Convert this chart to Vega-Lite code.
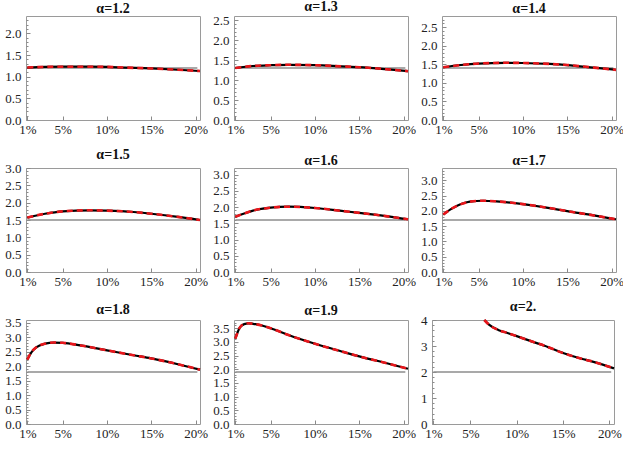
{
"$schema": "https://vega.github.io/schema/vega-lite/v6.json",
"padding": {"left": 4, "top": -1, "right": 1, "bottom": 1},
"background": "white",
"data": {"values": [
{"a":1.2,"s":"r","x":1,"y":1.2},{"a":1.2,"s":"r","x":20.2,"y":1.2},
{"a":1.3,"s":"r","x":1,"y":1.3},{"a":1.3,"s":"r","x":20.2,"y":1.3},
{"a":1.4,"s":"r","x":1,"y":1.4},{"a":1.4,"s":"r","x":20.2,"y":1.4},
{"a":1.5,"s":"r","x":1,"y":1.5},{"a":1.5,"s":"r","x":20.2,"y":1.5},
{"a":1.6,"s":"r","x":1,"y":1.6},{"a":1.6,"s":"r","x":20.2,"y":1.6},
{"a":1.7,"s":"r","x":1,"y":1.7},{"a":1.7,"s":"r","x":20.2,"y":1.7},
{"a":1.8,"s":"r","x":1,"y":1.8},{"a":1.8,"s":"r","x":20.2,"y":1.8},
{"a":1.9,"s":"r","x":1,"y":1.9},{"a":1.9,"s":"r","x":20.2,"y":1.9},
{"a":2,"s":"r","x":1,"y":2},{"a":2,"s":"r","x":20.2,"y":2},
{"a":1.2,"s":"c","x":1,"y":1.21},{"a":1.2,"s":"c","x":3,"y":1.225},{"a":1.2,"s":"c","x":5,"y":1.23},{"a":1.2,"s":"c","x":8,"y":1.23},{"a":1.2,"s":"c","x":10,"y":1.225},{"a":1.2,"s":"c","x":12,"y":1.21},{"a":1.2,"s":"c","x":15,"y":1.19},{"a":1.2,"s":"c","x":18,"y":1.16},{"a":1.2,"s":"c","x":20.5,"y":1.13},
{"a":1.3,"s":"c","x":1,"y":1.3},{"a":1.3,"s":"c","x":3,"y":1.35},{"a":1.3,"s":"c","x":5,"y":1.37},{"a":1.3,"s":"c","x":7,"y":1.38},{"a":1.3,"s":"c","x":10,"y":1.37},{"a":1.3,"s":"c","x":13,"y":1.34},{"a":1.3,"s":"c","x":15,"y":1.32},{"a":1.3,"s":"c","x":18,"y":1.27},{"a":1.3,"s":"c","x":20.5,"y":1.22},
{"a":1.4,"s":"c","x":1,"y":1.42},{"a":1.4,"s":"c","x":3,"y":1.48},{"a":1.4,"s":"c","x":5,"y":1.52},{"a":1.4,"s":"c","x":8,"y":1.54},{"a":1.4,"s":"c","x":10,"y":1.535},{"a":1.4,"s":"c","x":13,"y":1.51},{"a":1.4,"s":"c","x":15,"y":1.48},{"a":1.4,"s":"c","x":18,"y":1.41},{"a":1.4,"s":"c","x":20.5,"y":1.35},
{"a":1.5,"s":"c","x":1,"y":1.57},{"a":1.5,"s":"c","x":3,"y":1.68},{"a":1.5,"s":"c","x":5,"y":1.75},{"a":1.5,"s":"c","x":8,"y":1.78},{"a":1.5,"s":"c","x":10,"y":1.77},{"a":1.5,"s":"c","x":13,"y":1.73},{"a":1.5,"s":"c","x":15,"y":1.68},{"a":1.5,"s":"c","x":18,"y":1.59},{"a":1.5,"s":"c","x":20.5,"y":1.5},
{"a":1.6,"s":"c","x":1,"y":1.7},{"a":1.6,"s":"c","x":2,"y":1.8},{"a":1.6,"s":"c","x":3,"y":1.89},{"a":1.6,"s":"c","x":5,"y":1.98},{"a":1.6,"s":"c","x":7,"y":2.01},{"a":1.6,"s":"c","x":10,"y":1.97},{"a":1.6,"s":"c","x":13,"y":1.88},{"a":1.6,"s":"c","x":15,"y":1.82},{"a":1.6,"s":"c","x":18,"y":1.72},{"a":1.6,"s":"c","x":20.5,"y":1.62},
{"a":1.7,"s":"c","x":1,"y":1.88},{"a":1.7,"s":"c","x":2,"y":2.08},{"a":1.7,"s":"c","x":3,"y":2.22},{"a":1.7,"s":"c","x":4,"y":2.3},{"a":1.7,"s":"c","x":5.5,"y":2.33},{"a":1.7,"s":"c","x":7,"y":2.31},{"a":1.7,"s":"c","x":10,"y":2.22},{"a":1.7,"s":"c","x":13,"y":2.09},{"a":1.7,"s":"c","x":15,"y":1.99},{"a":1.7,"s":"c","x":18,"y":1.85},{"a":1.7,"s":"c","x":20.5,"y":1.72},
{"a":1.8,"s":"c","x":1,"y":2.23},{"a":1.8,"s":"c","x":1.5,"y":2.5},{"a":1.8,"s":"c","x":2,"y":2.65},{"a":1.8,"s":"c","x":3,"y":2.78},{"a":1.8,"s":"c","x":4,"y":2.82},{"a":1.8,"s":"c","x":5,"y":2.81},{"a":1.8,"s":"c","x":7,"y":2.72},{"a":1.8,"s":"c","x":10,"y":2.55},{"a":1.8,"s":"c","x":13,"y":2.38},{"a":1.8,"s":"c","x":15,"y":2.27},{"a":1.8,"s":"c","x":18,"y":2.07},{"a":1.8,"s":"c","x":20.5,"y":1.88},
{"a":1.9,"s":"c","x":1,"y":3.12},{"a":1.9,"s":"c","x":1.5,"y":3.52},{"a":1.9,"s":"c","x":2,"y":3.65},{"a":1.9,"s":"c","x":2.5,"y":3.68},{"a":1.9,"s":"c","x":3,"y":3.66},{"a":1.9,"s":"c","x":4,"y":3.6},{"a":1.9,"s":"c","x":5,"y":3.5},{"a":1.9,"s":"c","x":7,"y":3.25},{"a":1.9,"s":"c","x":10,"y":2.93},{"a":1.9,"s":"c","x":13,"y":2.65},{"a":1.9,"s":"c","x":15,"y":2.47},{"a":1.9,"s":"c","x":18,"y":2.23},{"a":1.9,"s":"c","x":20.5,"y":2.02},
{"a":2,"s":"c","x":6.5,"y":4.0},{"a":2,"s":"c","x":7,"y":3.82},{"a":2,"s":"c","x":8,"y":3.62},{"a":2,"s":"c","x":9,"y":3.5},{"a":2,"s":"c","x":10,"y":3.38},{"a":2,"s":"c","x":12,"y":3.13},{"a":2,"s":"c","x":13,"y":3.01},{"a":2,"s":"c","x":15,"y":2.73},{"a":2,"s":"c","x":17,"y":2.51},{"a":2,"s":"c","x":18,"y":2.42},{"a":2,"s":"c","x":20.5,"y":2.14}
]},
"config": {
  "view": {"stroke": "#9a9a9a", "strokeWidth": 1},
  "title": {"font": "Liberation Serif", "fontSize": 14, "fontWeight": "bold", "color": "#111111", "offset": 0, "frame": "group"},
  "line": {"clip": true}
},
"columns": 3,
"align": {"row": "each", "column": "none"},
"bounds": "full",
"spacing": {"row": 10, "column": 4},
"concat": [
{"width":174,"height":104,"title":{"text":"α=1.2","frame":"group","offset":0},"transform":[{"filter":"datum.a == 1.2"}],
 "encoding":{"x":{"field":"x","type":"quantitative","scale":{"domain":[0.85,20.5]},"axis":{"values":[1,5,10,15,20],"labelExpr":"datum.value + '%'","labelFont":"Liberation Serif","labelFontSize":13,"labelColor":"#222222","tickColor":"#8a8a8a","tickSize":-4,"labelPadding":7,"labelFlush":false,"labelOverlap":false,"domain":false,"grid":false,"title":null}}},
 "layer":[
  {"transform":[{"filter":"datum.s == 'r'"}],"mark":{"type":"line","color":"#8c8c8c","strokeWidth":1.5},"encoding":{"y":{"field":"y","type":"quantitative","scale":{"domain":[0,2.4],"nice":false},"axis":{"orient":"left","values":[0.1,0.2,0.3,0.4,0.6,0.7,0.8,0.9,1.1,1.2,1.3,1.4,1.6,1.7,1.8,1.9,2.1,2.2,2.3],"labels":false,"tickColor":"#8a8a8a","tickSize":-2,"domain":false,"grid":false,"title":null}}}},
  {"transform":[{"filter":"datum.s == 'c'"}],"mark":{"type":"line","color":"#000000","strokeWidth":2.2,"interpolate":"monotone"},"encoding":{"y":{"field":"y","type":"quantitative","scale":{"domain":[0,2.4],"nice":false},"axis":{"orient":"left","values":[0,0.5,1,1.5,2],"format":".1f","labelFont":"Liberation Serif","labelFontSize":13,"labelColor":"#222222","tickColor":"#8a8a8a","tickSize":-4,"labelPadding":9,"labelFlush":false,"labelOverlap":false,"domain":false,"grid":false,"title":null}}}},
  {"transform":[{"filter":"datum.s == 'c'"}],"mark":{"type":"line","color":"#e8161b","strokeWidth":2.6,"strokeDash":[6,4],"interpolate":"monotone"},"encoding":{"y":{"field":"y","type":"quantitative","scale":{"domain":[0,2.4],"nice":false},"axis":null}}}
 ],
 "resolve":{"axis":{"y":"independent"}}},
{"width":174,"height":104,"title":{"text":"α=1.3","frame":"group","offset":0},"transform":[{"filter":"datum.a == 1.3"}],
 "encoding":{"x":{"field":"x","type":"quantitative","scale":{"domain":[0.85,20.5]},"axis":{"values":[1,5,10,15,20],"labelExpr":"datum.value + '%'","labelFont":"Liberation Serif","labelFontSize":13,"labelColor":"#222222","tickColor":"#8a8a8a","tickSize":-4,"labelPadding":7,"labelFlush":false,"labelOverlap":false,"domain":false,"grid":false,"title":null}}},
 "layer":[
  {"transform":[{"filter":"datum.s == 'r'"}],"mark":{"type":"line","color":"#8c8c8c","strokeWidth":1.5},"encoding":{"y":{"field":"y","type":"quantitative","scale":{"domain":[0,2.6],"nice":false},"axis":{"orient":"left","values":[0.1,0.2,0.3,0.4,0.6,0.7,0.8,0.9,1.1,1.2,1.3,1.4,1.6,1.7,1.8,1.9,2.1,2.2,2.3,2.4],"labels":false,"tickColor":"#8a8a8a","tickSize":-2,"domain":false,"grid":false,"title":null}}}},
  {"transform":[{"filter":"datum.s == 'c'"}],"mark":{"type":"line","color":"#000000","strokeWidth":2.2,"interpolate":"monotone"},"encoding":{"y":{"field":"y","type":"quantitative","scale":{"domain":[0,2.6],"nice":false},"axis":{"orient":"left","values":[0,0.5,1,1.5,2,2.5],"format":".1f","labelFont":"Liberation Serif","labelFontSize":13,"labelColor":"#222222","tickColor":"#8a8a8a","tickSize":-4,"labelPadding":9,"labelFlush":false,"labelOverlap":false,"domain":false,"grid":false,"title":null}}}},
  {"transform":[{"filter":"datum.s == 'c'"}],"mark":{"type":"line","color":"#e8161b","strokeWidth":2.6,"strokeDash":[6,4],"interpolate":"monotone"},"encoding":{"y":{"field":"y","type":"quantitative","scale":{"domain":[0,2.6],"nice":false},"axis":null}}}
 ],
 "resolve":{"axis":{"y":"independent"}}},
{"width":174,"height":104,"title":{"text":"α=1.4","frame":"group","offset":0},"transform":[{"filter":"datum.a == 1.4"}],
 "encoding":{"x":{"field":"x","type":"quantitative","scale":{"domain":[0.85,20.5]},"axis":{"values":[1,5,10,15,20],"labelExpr":"datum.value + '%'","labelFont":"Liberation Serif","labelFontSize":13,"labelColor":"#222222","tickColor":"#8a8a8a","tickSize":-4,"labelPadding":7,"labelFlush":false,"labelOverlap":false,"domain":false,"grid":false,"title":null}}},
 "layer":[
  {"transform":[{"filter":"datum.s == 'r'"}],"mark":{"type":"line","color":"#8c8c8c","strokeWidth":1.5},"encoding":{"y":{"field":"y","type":"quantitative","scale":{"domain":[0,2.8],"nice":false},"axis":{"orient":"left","values":[0.1,0.2,0.3,0.4,0.6,0.7,0.8,0.9,1.1,1.2,1.3,1.4,1.6,1.7,1.8,1.9,2.1,2.2,2.3,2.4,2.6,2.7],"labels":false,"tickColor":"#8a8a8a","tickSize":-2,"domain":false,"grid":false,"title":null}}}},
  {"transform":[{"filter":"datum.s == 'c'"}],"mark":{"type":"line","color":"#000000","strokeWidth":2.2,"interpolate":"monotone"},"encoding":{"y":{"field":"y","type":"quantitative","scale":{"domain":[0,2.8],"nice":false},"axis":{"orient":"left","values":[0,0.5,1,1.5,2,2.5],"format":".1f","labelFont":"Liberation Serif","labelFontSize":13,"labelColor":"#222222","tickColor":"#8a8a8a","tickSize":-4,"labelPadding":9,"labelFlush":false,"labelOverlap":false,"domain":false,"grid":false,"title":null}}}},
  {"transform":[{"filter":"datum.s == 'c'"}],"mark":{"type":"line","color":"#e8161b","strokeWidth":2.6,"strokeDash":[6,4],"interpolate":"monotone"},"encoding":{"y":{"field":"y","type":"quantitative","scale":{"domain":[0,2.8],"nice":false},"axis":null}}}
 ],
 "resolve":{"axis":{"y":"independent"}}},
{"width":174,"height":104,"title":{"text":"α=1.5","frame":"group","offset":0},"transform":[{"filter":"datum.a == 1.5"}],
 "encoding":{"x":{"field":"x","type":"quantitative","scale":{"domain":[0.85,20.5]},"axis":{"values":[1,5,10,15,20],"labelExpr":"datum.value + '%'","labelFont":"Liberation Serif","labelFontSize":13,"labelColor":"#222222","tickColor":"#8a8a8a","tickSize":-4,"labelPadding":7,"labelFlush":false,"labelOverlap":false,"domain":false,"grid":false,"title":null}}},
 "layer":[
  {"transform":[{"filter":"datum.s == 'r'"}],"mark":{"type":"line","color":"#8c8c8c","strokeWidth":1.5},"encoding":{"y":{"field":"y","type":"quantitative","scale":{"domain":[0,3.0],"nice":false},"axis":{"orient":"left","values":[0.1,0.2,0.3,0.4,0.6,0.7,0.8,0.9,1.1,1.2,1.3,1.4,1.6,1.7,1.8,1.9,2.1,2.2,2.3,2.4,2.6,2.7,2.8,2.9],"labels":false,"tickColor":"#8a8a8a","tickSize":-2,"domain":false,"grid":false,"title":null}}}},
  {"transform":[{"filter":"datum.s == 'c'"}],"mark":{"type":"line","color":"#000000","strokeWidth":2.2,"interpolate":"monotone"},"encoding":{"y":{"field":"y","type":"quantitative","scale":{"domain":[0,3.0],"nice":false},"axis":{"orient":"left","values":[0,0.5,1,1.5,2,2.5,3],"format":".1f","labelFont":"Liberation Serif","labelFontSize":13,"labelColor":"#222222","tickColor":"#8a8a8a","tickSize":-4,"labelPadding":9,"labelFlush":false,"labelOverlap":false,"domain":false,"grid":false,"title":null}}}},
  {"transform":[{"filter":"datum.s == 'c'"}],"mark":{"type":"line","color":"#e8161b","strokeWidth":2.6,"strokeDash":[6,4],"interpolate":"monotone"},"encoding":{"y":{"field":"y","type":"quantitative","scale":{"domain":[0,3.0],"nice":false},"axis":null}}}
 ],
 "resolve":{"axis":{"y":"independent"}}},
{"width":174,"height":104,"title":{"text":"α=1.6","frame":"group","offset":0},"transform":[{"filter":"datum.a == 1.6"}],
 "encoding":{"x":{"field":"x","type":"quantitative","scale":{"domain":[0.85,20.5]},"axis":{"values":[1,5,10,15,20],"labelExpr":"datum.value + '%'","labelFont":"Liberation Serif","labelFontSize":13,"labelColor":"#222222","tickColor":"#8a8a8a","tickSize":-4,"labelPadding":7,"labelFlush":false,"labelOverlap":false,"domain":false,"grid":false,"title":null}}},
 "layer":[
  {"transform":[{"filter":"datum.s == 'r'"}],"mark":{"type":"line","color":"#8c8c8c","strokeWidth":1.5},"encoding":{"y":{"field":"y","type":"quantitative","scale":{"domain":[0,3.2],"nice":false},"axis":{"orient":"left","values":[0.1,0.2,0.3,0.4,0.6,0.7,0.8,0.9,1.1,1.2,1.3,1.4,1.6,1.7,1.8,1.9,2.1,2.2,2.3,2.4,2.6,2.7,2.8,2.9,3.1],"labels":false,"tickColor":"#8a8a8a","tickSize":-2,"domain":false,"grid":false,"title":null}}}},
  {"transform":[{"filter":"datum.s == 'c'"}],"mark":{"type":"line","color":"#000000","strokeWidth":2.2,"interpolate":"monotone"},"encoding":{"y":{"field":"y","type":"quantitative","scale":{"domain":[0,3.2],"nice":false},"axis":{"orient":"left","values":[0,0.5,1,1.5,2,2.5,3],"format":".1f","labelFont":"Liberation Serif","labelFontSize":13,"labelColor":"#222222","tickColor":"#8a8a8a","tickSize":-4,"labelPadding":9,"labelFlush":false,"labelOverlap":false,"domain":false,"grid":false,"title":null}}}},
  {"transform":[{"filter":"datum.s == 'c'"}],"mark":{"type":"line","color":"#e8161b","strokeWidth":2.6,"strokeDash":[6,4],"interpolate":"monotone"},"encoding":{"y":{"field":"y","type":"quantitative","scale":{"domain":[0,3.2],"nice":false},"axis":null}}}
 ],
 "resolve":{"axis":{"y":"independent"}}},
{"width":174,"height":104,"title":{"text":"α=1.7","frame":"group","offset":0},"transform":[{"filter":"datum.a == 1.7"}],
 "encoding":{"x":{"field":"x","type":"quantitative","scale":{"domain":[0.85,20.5]},"axis":{"values":[1,5,10,15,20],"labelExpr":"datum.value + '%'","labelFont":"Liberation Serif","labelFontSize":13,"labelColor":"#222222","tickColor":"#8a8a8a","tickSize":-4,"labelPadding":7,"labelFlush":false,"labelOverlap":false,"domain":false,"grid":false,"title":null}}},
 "layer":[
  {"transform":[{"filter":"datum.s == 'r'"}],"mark":{"type":"line","color":"#8c8c8c","strokeWidth":1.5},"encoding":{"y":{"field":"y","type":"quantitative","scale":{"domain":[0,3.4],"nice":false},"axis":{"orient":"left","values":[0.1,0.2,0.3,0.4,0.6,0.7,0.8,0.9,1.1,1.2,1.3,1.4,1.6,1.7,1.8,1.9,2.1,2.2,2.3,2.4,2.6,2.7,2.8,2.9,3.1,3.2,3.3],"labels":false,"tickColor":"#8a8a8a","tickSize":-2,"domain":false,"grid":false,"title":null}}}},
  {"transform":[{"filter":"datum.s == 'c'"}],"mark":{"type":"line","color":"#000000","strokeWidth":2.2,"interpolate":"monotone"},"encoding":{"y":{"field":"y","type":"quantitative","scale":{"domain":[0,3.4],"nice":false},"axis":{"orient":"left","values":[0,0.5,1,1.5,2,2.5,3],"format":".1f","labelFont":"Liberation Serif","labelFontSize":13,"labelColor":"#222222","tickColor":"#8a8a8a","tickSize":-4,"labelPadding":9,"labelFlush":false,"labelOverlap":false,"domain":false,"grid":false,"title":null}}}},
  {"transform":[{"filter":"datum.s == 'c'"}],"mark":{"type":"line","color":"#e8161b","strokeWidth":2.6,"strokeDash":[6,4],"interpolate":"monotone"},"encoding":{"y":{"field":"y","type":"quantitative","scale":{"domain":[0,3.4],"nice":false},"axis":null}}}
 ],
 "resolve":{"axis":{"y":"independent"}}},
{"width":174,"height":104,"title":{"text":"α=1.8","frame":"group","offset":0},"transform":[{"filter":"datum.a == 1.8"}],
 "encoding":{"x":{"field":"x","type":"quantitative","scale":{"domain":[0.85,20.5]},"axis":{"values":[1,5,10,15,20],"labelExpr":"datum.value + '%'","labelFont":"Liberation Serif","labelFontSize":13,"labelColor":"#222222","tickColor":"#8a8a8a","tickSize":-4,"labelPadding":7,"labelFlush":false,"labelOverlap":false,"domain":false,"grid":false,"title":null}}},
 "layer":[
  {"transform":[{"filter":"datum.s == 'r'"}],"mark":{"type":"line","color":"#8c8c8c","strokeWidth":1.5},"encoding":{"y":{"field":"y","type":"quantitative","scale":{"domain":[0,3.6],"nice":false},"axis":{"orient":"left","values":[0.1,0.2,0.3,0.4,0.6,0.7,0.8,0.9,1.1,1.2,1.3,1.4,1.6,1.7,1.8,1.9,2.1,2.2,2.3,2.4,2.6,2.7,2.8,2.9,3.1,3.2,3.3,3.4],"labels":false,"tickColor":"#8a8a8a","tickSize":-2,"domain":false,"grid":false,"title":null}}}},
  {"transform":[{"filter":"datum.s == 'c'"}],"mark":{"type":"line","color":"#000000","strokeWidth":2.2,"interpolate":"monotone"},"encoding":{"y":{"field":"y","type":"quantitative","scale":{"domain":[0,3.6],"nice":false},"axis":{"orient":"left","values":[0,0.5,1,1.5,2,2.5,3,3.5],"format":".1f","labelFont":"Liberation Serif","labelFontSize":13,"labelColor":"#222222","tickColor":"#8a8a8a","tickSize":-4,"labelPadding":9,"labelFlush":false,"labelOverlap":false,"domain":false,"grid":false,"title":null}}}},
  {"transform":[{"filter":"datum.s == 'c'"}],"mark":{"type":"line","color":"#e8161b","strokeWidth":2.6,"strokeDash":[6,4],"interpolate":"monotone"},"encoding":{"y":{"field":"y","type":"quantitative","scale":{"domain":[0,3.6],"nice":false},"axis":null}}}
 ],
 "resolve":{"axis":{"y":"independent"}}},
{"width":174,"height":104,"title":{"text":"α=1.9","frame":"group","offset":0},"transform":[{"filter":"datum.a == 1.9"}],
 "encoding":{"x":{"field":"x","type":"quantitative","scale":{"domain":[0.85,20.5]},"axis":{"values":[1,5,10,15,20],"labelExpr":"datum.value + '%'","labelFont":"Liberation Serif","labelFontSize":13,"labelColor":"#222222","tickColor":"#8a8a8a","tickSize":-4,"labelPadding":7,"labelFlush":false,"labelOverlap":false,"domain":false,"grid":false,"title":null}}},
 "layer":[
  {"transform":[{"filter":"datum.s == 'r'"}],"mark":{"type":"line","color":"#8c8c8c","strokeWidth":1.5},"encoding":{"y":{"field":"y","type":"quantitative","scale":{"domain":[0,3.8],"nice":false},"axis":{"orient":"left","values":[0.1,0.2,0.3,0.4,0.6,0.7,0.8,0.9,1.1,1.2,1.3,1.4,1.6,1.7,1.8,1.9,2.1,2.2,2.3,2.4,2.6,2.7,2.8,2.9,3.1,3.2,3.3,3.4,3.6,3.7],"labels":false,"tickColor":"#8a8a8a","tickSize":-2,"domain":false,"grid":false,"title":null}}}},
  {"transform":[{"filter":"datum.s == 'c'"}],"mark":{"type":"line","color":"#000000","strokeWidth":2.2,"interpolate":"monotone"},"encoding":{"y":{"field":"y","type":"quantitative","scale":{"domain":[0,3.8],"nice":false},"axis":{"orient":"left","values":[0,0.5,1,1.5,2,2.5,3,3.5],"format":".1f","labelFont":"Liberation Serif","labelFontSize":13,"labelColor":"#222222","tickColor":"#8a8a8a","tickSize":-4,"labelPadding":9,"labelFlush":false,"labelOverlap":false,"domain":false,"grid":false,"title":null}}}},
  {"transform":[{"filter":"datum.s == 'c'"}],"mark":{"type":"line","color":"#e8161b","strokeWidth":2.6,"strokeDash":[6,4],"interpolate":"monotone"},"encoding":{"y":{"field":"y","type":"quantitative","scale":{"domain":[0,3.8],"nice":false},"axis":null}}}
 ],
 "resolve":{"axis":{"y":"independent"}}},
{"width":182,"height":104,"title":{"text":"α=2.","frame":"group","offset":0},"transform":[{"filter":"datum.a == 2"}],
 "encoding":{"x":{"field":"x","type":"quantitative","scale":{"domain":[0.85,20.5]},"axis":{"values":[1,5,10,15,20],"labelExpr":"datum.value + '%'","labelFont":"Liberation Serif","labelFontSize":13,"labelColor":"#222222","tickColor":"#8a8a8a","tickSize":-4,"labelPadding":7,"labelFlush":false,"labelOverlap":false,"domain":false,"grid":false,"title":null}}},
 "layer":[
  {"transform":[{"filter":"datum.s == 'r'"}],"mark":{"type":"line","color":"#8c8c8c","strokeWidth":1.5},"encoding":{"y":{"field":"y","type":"quantitative","scale":{"domain":[0,4],"nice":false},"axis":{"orient":"left","values":[0.2,0.4,0.6,0.8,1.2,1.4,1.6,1.8,2.2,2.4,2.6,2.8,3.2,3.4,3.6,3.8],"labels":false,"tickColor":"#8a8a8a","tickSize":-2,"domain":false,"grid":false,"title":null}}}},
  {"transform":[{"filter":"datum.s == 'c'"}],"mark":{"type":"line","color":"#000000","strokeWidth":2.2,"interpolate":"monotone"},"encoding":{"y":{"field":"y","type":"quantitative","scale":{"domain":[0,4],"nice":false},"axis":{"orient":"left","values":[0,1,2,3,4],"format":"d","labelFont":"Liberation Serif","labelFontSize":13,"labelColor":"#222222","tickColor":"#8a8a8a","tickSize":-4,"labelPadding":9,"labelFlush":false,"labelOverlap":false,"domain":false,"grid":false,"title":null}}}},
  {"transform":[{"filter":"datum.s == 'c'"}],"mark":{"type":"line","color":"#e8161b","strokeWidth":2.6,"strokeDash":[6,4],"interpolate":"monotone"},"encoding":{"y":{"field":"y","type":"quantitative","scale":{"domain":[0,4],"nice":false},"axis":null}}}
 ],
 "resolve":{"axis":{"y":"independent"}}}
]
}
